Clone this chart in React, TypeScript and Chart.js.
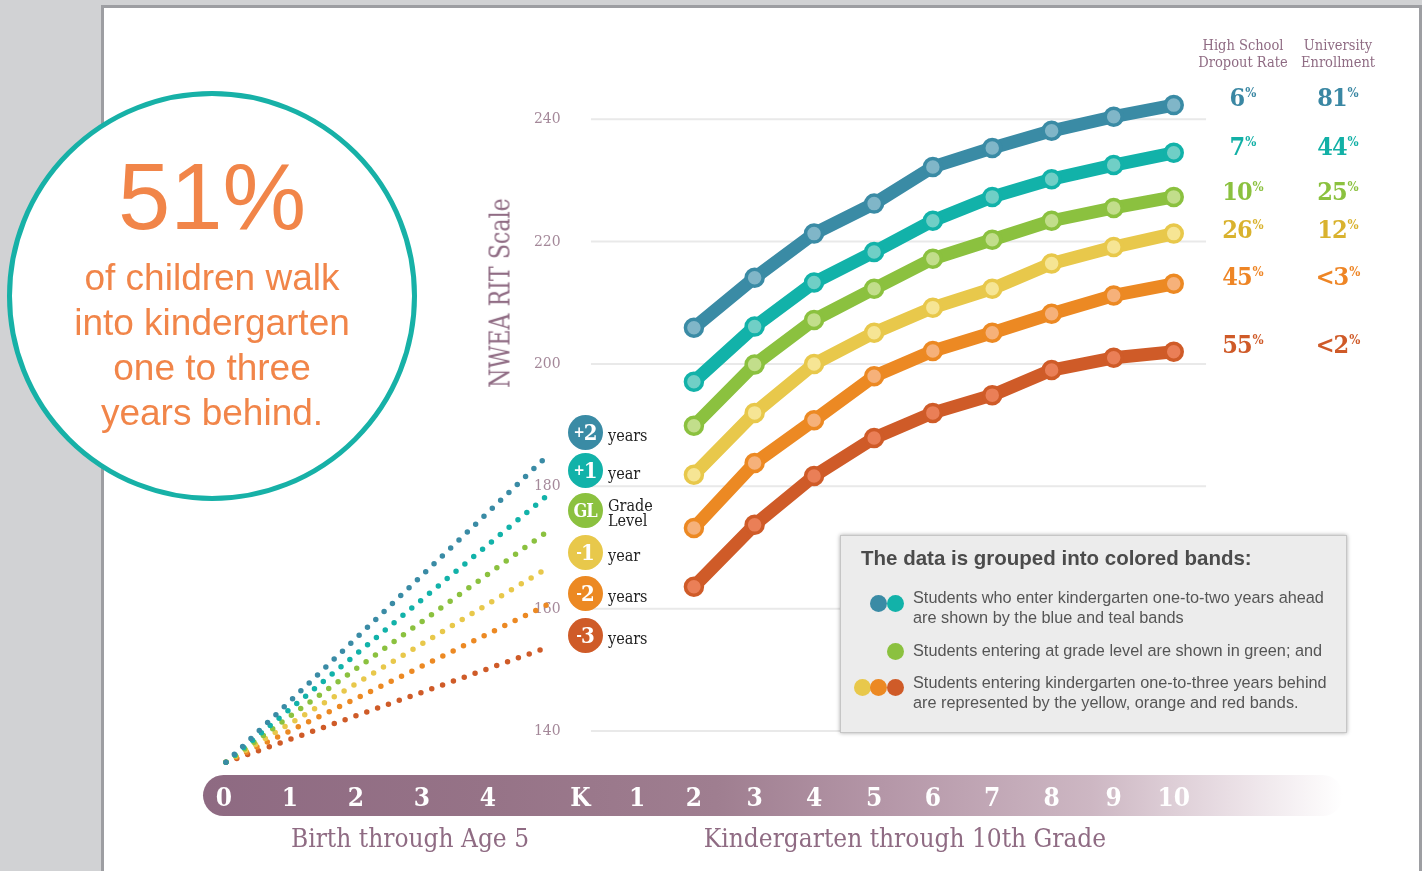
import React, { useEffect, useRef } from 'react';
import { Chart, registerables } from 'chart.js';

Chart.register(...registerables);

// ---------- data ----------
const stageLabels = ['0', '1', '2', '3', '4', 'K', '1', '2', '3', '4', '5', '6', '7', '8', '9', '10'];
// position of each stage on the horizontal axis (ages are wider apart than grades)
const stagePositions = [0, 1, 2, 3, 4, 5.4, 6.26, 7.12, 8.04, 8.94, 9.85, 10.74, 11.64, 12.54, 13.48, 14.39];
const firstGradeIndex = 7; // grade 2 .. grade 10

const ahead2 = [205.9, 214.1, 221.3, 226.2, 232.2, 235.3, 238.1, 240.4, 242.3];
const ahead1 = [197.1, 206.1, 213.3, 218.3, 223.4, 227.3, 230.2, 232.5, 234.5];
const gradeLevel = [189.9, 199.9, 207.2, 212.3, 217.2, 220.3, 223.4, 225.5, 227.3];
const behind1 = [181.9, 192.0, 200.0, 205.1, 209.2, 212.3, 216.4, 219.1, 221.3];
const behind2 = [173.2, 183.8, 190.8, 198.0, 202.1, 205.1, 208.2, 211.2, 213.1];
const behind3 = [163.6, 173.7, 181.7, 187.9, 192.0, 194.9, 199.0, 201.0, 202.0];

// birth-to-age-5 dotted trajectories
const earlyAges = [0.03, 4.91];
const earlyStart = 134.9;
const earlyEnd = [185.1, 178.6, 172.7, 166.7, 160.7, 153.7];

const yTicks = [140, 160, 180, 200, 220, 240];

const bandBadges = ['+2', '+1', 'GL', '-1', '-2', '-3'];
const bandBadgeText = [['years'], ['year'], ['Grade', 'Level'], ['year'], ['years'], ['years']];
const dropoutRates = ['6', '7', '10', '26', '45', '55'];
const enrollment = ['81', '44', '25', '12', '<3', '<2'];

// ---------- styles ----------
const lineColors = ['#3a8ba5', '#12b2a9', '#8bc13f', '#e8c84b', '#ec8923', '#cf5b28'];
const innerColors = ['#80b6c8', '#70cfc6', '#c2de8b', '#f6e594', '#f6b17a', '#ea7f57'];
const textColors = ['#3a87a3', '#12b0a6', '#8bc13f', '#d9b22e', '#ee8525', '#cf5a28'];
const MAUVE = '#8f6b83';
const SLAB = "'DejaVu Serif Condensed', 'DejaVu Serif', serif";
const SANS = "'Liberation Sans', Arial, Helvetica, sans-serif";

const badgeY = [432, 470, 510, 552, 593, 635];
const rateRowY = [98, 147, 192, 230, 277, 345];

const gridPlugin = {
  id: 'customGrid',
  beforeDatasetsDraw(chart: any) {
    const { ctx, scales } = chart;
    const xs = scales.x;
    const ys = scales.y;
    const x0 = xs.getPixelForValue(5.56);
    const x1 = xs.getPixelForValue(14.88);
    ctx.save();
    ctx.strokeStyle = '#e9e9e9';
    ctx.lineWidth = 2;
    yTicks.forEach((v) => {
      const y = ys.getPixelForValue(v);
      ctx.beginPath();
      ctx.moveTo(x0, y);
      ctx.lineTo(x1, y);
      ctx.stroke();
    });
    ctx.fillStyle = '#a48899';
    ctx.font = `15.5px ${SLAB}`;
    ctx.textAlign = 'right';
    ctx.textBaseline = 'middle';
    const lx = xs.getPixelForValue(5.1);
    yTicks.forEach((v) => {
      ctx.fillText(String(v), lx, ys.getPixelForValue(v));
    });
    ctx.restore();
  },
};

function ChartCanvas() {
  const ref = useRef<HTMLCanvasElement | null>(null);
  useEffect(() => {
    if (!ref.current) return;
    const series = [ahead2, ahead1, gradeLevel, behind1, behind2, behind3];
    const gradeX = stagePositions.slice(firstGradeIndex);
    const solid = series.map((s, i) => ({
      label: bandBadges[i],
      data: s.map((v, j) => ({ x: gradeX[j], y: v })),
      borderColor: lineColors[i],
      borderWidth: 13,
      borderJoinStyle: 'round' as const,
      borderCapStyle: 'round' as const,
      pointRadius: 8.5,
      pointBorderWidth: 3.5,
      pointBackgroundColor: innerColors[i],
      pointBorderColor: lineColors[i],
      tension: 0,
      fill: false,
    }));
    const dotted = earlyEnd.map((end, i) => ({
      label: bandBadges[i] + ' early',
      data: [
        { x: earlyAges[0], y: earlyStart },
        { x: earlyAges[1], y: end },
      ],
      borderColor: lineColors[i],
      borderWidth: 5.5,
      borderDash: [0, 11.5],
      borderCapStyle: 'round' as const,
      pointRadius: 0,
      tension: 0,
      fill: false,
    }));
    const chart = new Chart(ref.current, {
      type: 'line',
      data: { datasets: [...solid, ...dotted] as any },
      options: {
        animation: false,
        responsive: true,
        maintainAspectRatio: false,
        events: [],
        layout: { padding: { left: 191, right: 109, top: 58, bottom: 52 } },
        plugins: { legend: { display: false }, tooltip: { enabled: false } },
        scales: {
          x: {
            type: 'linear',
            min: -0.5,
            max: 16.5,
            grid: { display: false, drawTicks: false },
            border: { display: false },
            afterBuildTicks: (s: any) => {
              s.ticks = stagePositions.map((v) => ({ value: v }));
            },
            ticks: {
              autoSkip: false,
              maxRotation: 0,
              minRotation: 0,
              padding: 0,
              color: '#ffffff',
              font: { family: SLAB, size: 26, weight: 'bold', lineHeight: 1.5 },
              callback: (_v: any, i: number) => stageLabels[i],
            },
          },
          y: { type: 'linear', min: 132, max: 250, display: false },
        },
      } as any,
      plugins: [gridPlugin],
    });
    return () => chart.destroy();
  }, []);
  return (
    <div style={{ position: 'absolute', left: 0, top: 0, width: 1422, height: 871 }}>
      <canvas ref={ref} />
    </div>
  );
}

function Pct({ cx, cy, value, color }: { cx: number; cy: number; value: string; color: string }) {
  return (
    <div
      style={{
        position: 'absolute',
        left: cx - 50,
        width: 100,
        top: cy - 16,
        height: 32,
        lineHeight: '32px',
        textAlign: 'center',
        fontFamily: SLAB,
        fontWeight: 900,
        fontSize: 25,
        letterSpacing: -1,
        color,
        whiteSpace: 'nowrap',
      }}
    >
      {value}
      <span style={{ fontSize: 13, position: 'relative', top: -9, letterSpacing: 0, marginLeft: 1 }}>%</span>
    </div>
  );
}

export default function App() {
  useEffect(() => {
    document.body.style.margin = '0';
  }, []);
  return (
    <div
      style={{
        position: 'absolute',
        left: 0,
        top: 0,
        width: 1422,
        height: 871,
        background: '#d1d2d4',
        overflow: 'hidden',
      }}
    >
      {/* white panel */}
      <div
        style={{
          position: 'absolute',
          left: 101,
          top: 5,
          width: 1321,
          height: 880,
          background: '#ffffff',
          borderLeft: '3px solid #9d9ea2',
          borderTop: '3px solid #9d9ea2',
          borderRight: '3px solid #9d9ea2',
          boxSizing: 'border-box',
        }}
      />
      {/* axis band */}
      <div
        style={{
          position: 'absolute',
          left: 203,
          top: 775,
          width: 1140,
          height: 41,
          borderRadius: 21,
          background:
            'linear-gradient(to right, #8e6a82 0%, #967387 25%, #9f7e90 45%, #b597a8 60%, #cdb7c3 78%, #e9dee4 90%, rgba(255,255,255,0) 100%)',
        }}
      />
      <ChartCanvas />

      {/* axis texts */}
      <div
        style={{
          position: 'absolute',
          left: 500,
          top: 293,
          transform: 'translate(-50%, -50%) rotate(-90deg) scaleX(0.88)',
          fontFamily: SLAB,
          fontSize: 28,
          color: MAUVE,
          whiteSpace: 'nowrap',
        }}
      >
        NWEA RIT Scale
      </div>
      <div
        style={{
          position: 'absolute',
          left: 410,
          top: 838,
          transform: 'translate(-50%, -50%)',
          fontFamily: SLAB,
          fontSize: 26,
          color: MAUVE,
          whiteSpace: 'nowrap',
        }}
      >
        Birth through Age 5
      </div>
      <div
        style={{
          position: 'absolute',
          left: 905,
          top: 838,
          transform: 'translate(-50%, -50%)',
          fontFamily: SLAB,
          fontSize: 26,
          color: MAUVE,
          whiteSpace: 'nowrap',
        }}
      >
        Kindergarten through 10th Grade
      </div>

      {/* band badges */}
      {bandBadges.map((b, i) => (
        <React.Fragment key={b}>
          <div
            style={{
              position: 'absolute',
              left: 585 - 17.5,
              top: badgeY[i] - 17.5,
              width: 35,
              height: 35,
              borderRadius: '50%',
              background: lineColors[i],
              color: '#fff',
              fontFamily: SLAB,
              fontWeight: 'bold',
              fontSize: b === 'GL' ? 18 : 22,
              display: 'flex',
              alignItems: 'center',
              justifyContent: 'center',
              letterSpacing: -1,
            }}
          >
            {b[0] === '+' || b[0] === '-' ? (
              <>
                <span style={{ fontSize: 15 }}>{b[0]}</span>
                {b.slice(1)}
              </>
            ) : (
              b
            )}
          </div>
          <div
            style={{
              position: 'absolute',
              left: 608,
              top: badgeY[i] + 3 - (bandBadgeText[i].length * 15) / 2,
              fontFamily: SLAB,
              fontSize: 16,
              lineHeight: '15px',
              color: '#222',
              whiteSpace: 'nowrap',
            }}
          >
            {bandBadgeText[i].map((t) => (
              <div key={t}>{t}</div>
            ))}
          </div>
        </React.Fragment>
      ))}

      {/* right-side outcome columns */}
      <div
        style={{
          position: 'absolute',
          left: 1243 - 60,
          width: 120,
          top: 37,
          textAlign: 'center',
          fontFamily: SLAB,
          fontSize: 14.5,
          lineHeight: '16.5px',
          color: MAUVE,
        }}
      >
        High School
        <br />
        Dropout Rate
      </div>
      <div
        style={{
          position: 'absolute',
          left: 1338 - 60,
          width: 120,
          top: 37,
          textAlign: 'center',
          fontFamily: SLAB,
          fontSize: 14.5,
          lineHeight: '16.5px',
          color: MAUVE,
        }}
      >
        University
        <br />
        Enrollment
      </div>
      {dropoutRates.map((v, i) => (
        <Pct key={'d' + i} cx={1243} cy={rateRowY[i]} value={v} color={textColors[i]} />
      ))}
      {enrollment.map((v, i) => (
        <Pct key={'e' + i} cx={1338} cy={rateRowY[i]} value={v} color={textColors[i]} />
      ))}

      {/* legend box */}
      <div
        style={{
          position: 'absolute',
          left: 840,
          top: 535,
          width: 507,
          height: 198,
          background: '#ececec',
          border: '1px solid #c6c6c6',
          boxShadow: '0 0 4px rgba(0,0,0,0.35)',
          boxSizing: 'border-box',
          fontFamily: SANS,
        }}
      >
        <div
          style={{
            position: 'absolute',
            left: 20,
            top: 10,
            fontSize: 20.5,
            lineHeight: '24px',
            fontWeight: 'bold',
            color: '#4b4b4b',
            whiteSpace: 'nowrap',
          }}
        >
          The data is grouped into colored bands:
        </div>
        {[
          { dots: [0, 1], top: 52, dotY: 67, text: ['Students who enter kindergarten one-to-two years ahead', 'are shown by the blue and teal bands'] },
          { dots: [2], top: 105, dotY: 115, text: ['Students entering at grade level are shown in green; and'] },
          { dots: [3, 4, 5], top: 137, dotY: 151, text: ['Students entering kindergarten one-to-three years behind', 'are represented by the yellow, orange and red bands.'] },
        ].map((row, r) => (
          <React.Fragment key={r}>
            {row.dots.map((c, k) => (
              <div
                key={c}
                style={{
                  position: 'absolute',
                  left: 54 - (row.dots.length - 1 - k) * 16.5 - 8.5,
                  top: row.dotY - 8.5,
                  width: 17,
                  height: 17,
                  borderRadius: '50%',
                  background: lineColors[c],
                }}
              />
            ))}
            <div
              style={{
                position: 'absolute',
                left: 72,
                top: row.top,
                fontSize: 16.3,
                lineHeight: '19.5px',
                color: '#555',
                whiteSpace: 'nowrap',
              }}
            >
              {row.text.map((t) => (
                <div key={t}>{t}</div>
              ))}
            </div>
          </React.Fragment>
        ))}
      </div>

      {/* big circle callout */}
      <div
        style={{
          position: 'absolute',
          left: 7,
          top: 91,
          width: 410,
          height: 410,
          borderRadius: '50%',
          border: '5px solid #17b1a7',
          background: '#ffffff',
          boxSizing: 'border-box',
        }}
      />
      <div
        style={{
          position: 'absolute',
          left: 7,
          width: 410,
          top: 150,
          textAlign: 'center',
          fontFamily: SANS,
          fontSize: 94,
          lineHeight: '94px',
          color: '#f18549',
        }}
      >
        51%
      </div>
      <div
        style={{
          position: 'absolute',
          left: 7,
          width: 410,
          top: 255,
          textAlign: 'center',
          fontFamily: SANS,
          fontSize: 37,
          lineHeight: '45px',
          color: '#f18549',
        }}
      >
        of children walk
        <br />
        into kindergarten
        <br />
        one to three
        <br />
        years behind.
      </div>
    </div>
  );
}
